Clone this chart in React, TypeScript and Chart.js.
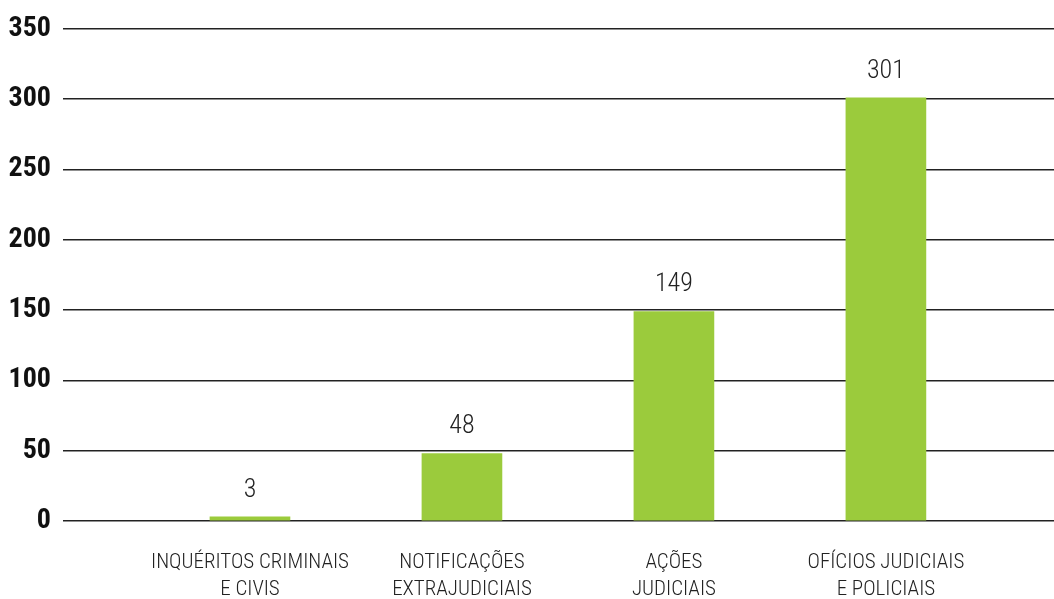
import React, { useEffect, useRef } from "react";
import { Chart, registerables } from "chart.js";

Chart.register(...registerables);

const categories: string[][] = [
  ["INQUÉRITOS CRIMINAIS", "E CIVIS"],
  ["NOTIFICAÇÕES", "EXTRAJUDICIAIS"],
  ["AÇÕES", "JUDICIAIS"],
  ["OFÍCIOS JUDICIAIS", "E POLICIAIS"],
];
const values: number[] = [3, 48, 149, 301];
const yMin = 0;
const yMax = 350;
const yStep = 50;

const COND = "'Roboto Condensed', 'Open Sans', sans-serif";
const BAR_COLOR = "#9bcb3c";

export default function App() {
  const ref = useRef<HTMLCanvasElement | null>(null);

  useEffect(() => {
    if (!ref.current) return;
    const valueLabels = {
      id: "valueLabels",
      afterDatasetsDraw(chart: any) {
        const ctx = chart.ctx;
        const meta = chart.getDatasetMeta(0);
        meta.data.forEach((bar: any, i: number) => {
          ctx.save();
          ctx.font = `300 26px ${COND}`;
          ctx.fillStyle = "#222";
          ctx.textAlign = "center";
          ctx.textBaseline = "alphabetic";
          ctx.fillText(String(values[i]), bar.x, bar.y - 20);
          ctx.restore();
        });
      },
    };

    const chart = new Chart(ref.current, {
      type: "bar",
      data: {
        datasets: [
          {
            data: values.map((v, i) => ({ x: i, y: v })),
            backgroundColor: BAR_COLOR,
            barThickness: 80,
          } as any,
        ],
      },
      options: {
        animation: false,
        responsive: false,
        devicePixelRatio: 1,
        layout: { padding: { top: 26, right: 0, left: 0, bottom: 0 } },
        plugins: { legend: { display: false }, tooltip: { enabled: false } },
        scales: {
          x: {
            type: "linear",
            offset: false,
            min: -0.882,
            max: 3.793,
            grid: { display: false, offset: false },
            border: { display: false },
            afterBuildTicks: (s: any) => {
              s.ticks = categories.map((_, i) => ({ value: i }));
            },
            afterFit: (s: any) => {
              s.height = 78;
            },
            ticks: {
              autoSkip: false,
              maxRotation: 0,
              minRotation: 0,
              padding: 20,
              color: "#222",
              font: { family: COND, size: 21, weight: 300, lineHeight: "27px" } as any,
              callback: (v: any) => categories[v as number] ?? "",
            },
          },
          y: {
            min: yMin,
            max: yMax,
            grid: { color: "#222", lineWidth: 1.5, drawTicks: false },
            border: { display: false },
            afterFit: (s: any) => {
              s.width = 63;
            },
            ticks: {
              stepSize: yStep,
              padding: 12,
              color: "#111",
              font: { family: COND, size: 28, weight: "bold" } as any,
            },
          },
        },
      },
      plugins: [valueLabels],
    });
    return () => chart.destroy();
  }, []);

  return (
    <canvas
      ref={ref}
      width={1054}
      height={599}
      style={{ position: "absolute", left: 0, top: 0, width: 1054, height: 599 }}
    />
  );
}
